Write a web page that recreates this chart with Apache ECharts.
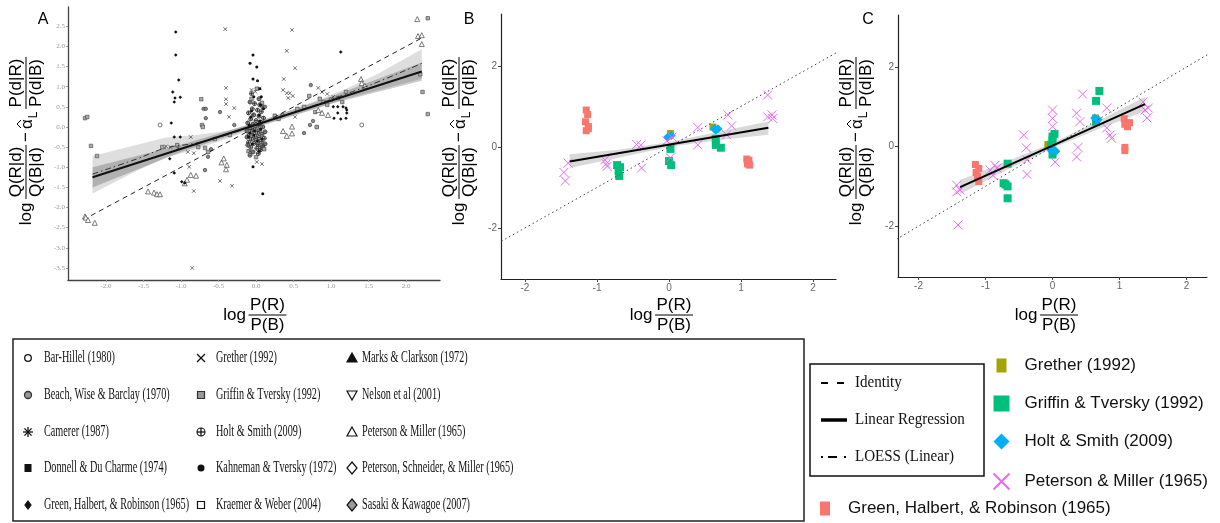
<!DOCTYPE html>
<html>
<head>
<meta charset="utf-8">
<script src="https://cdn.jsdelivr.net/npm/echarts@6/dist/echarts.min.js"></script>
<style>
html, body { margin: 0; padding: 0; background: #fff; }
#chart { width: 1220px; height: 523px; }
</style>
</head>
<body>
<div id="chart"></div>
<script>
// ---------- panel A: all studies (x = log prior odds, y = adjusted log posterior odds)
var aGrether = [[-0.41,2.43],[0.48,2.41],[0.41,1.89],[0.52,1.46],[0.37,1.19],[-0.40,0.97],[-0.40,0.69],[-0.40,0.57],
  [-0.29,0.47],[-0.36,0.25],[-0.87,-0.25],[-0.91,-0.62],[-0.83,-0.65],[-0.89,-0.99],[-0.48,-1.34],[-0.32,-1.46],
  [-0.83,-1.59],[-0.85,-3.5],[0.36,0.92],[0.41,0.84],[0.45,0.84],[0.49,0.77],[0.43,0.72],[0.52,0.25],[0.83,0.97],
  [0.88,0.87],[0.95,0.82],[0.01,-0.87],[0.08,-0.92],[-0.06,0.92],[-0.01,0.88],[0.05,0.96],[1.03,0.75],[-1.04,-0.53],
  [-1.2,-0.48],[-1.14,-0.5],[-0.05,0.3],[0.03,-0.45],[-0.08,-0.6]];
var aPeterson = [[-2.28,-2.22],[-2.27,-2.25],[-2.24,-2.31],[-2.15,-2.38],[-1.44,-1.6],[-1.36,-1.63],[-1.32,-1.67],
  [-1.28,-1.67],[-0.95,-1.4],[-0.92,-1.31],[-0.87,-1.19],[-0.8,-1.21],[-0.46,-0.88],[-0.43,-0.78],[-0.39,-0.94],
  [-0.4,-1.05],[0.36,-0.1],[0.41,-0.22],[0.48,-0.16],[0.48,0.01],[0.83,0.42],[0.88,0.35],[0.96,0.3],[1.4,1.19],
  [1.41,1.09],[1.45,1.02],[2.15,2.68],[2.16,2.26],[2.21,2.28],[2.21,2.06]];
var aGreen = [[-1.07,2.36],[-1.07,1.79],[-1.03,1.17],[-1.11,0.87],[-1.08,0.72],[-1.01,0.74],[-1.09,0.62],[-1.13,0.10],
  [-1.09,-0.25],[-1.01,-0.25],[-1.15,-0.79],[-1.09,-1.14],[-0.99,-1.36],[-0.95,-1.39],[1.13,1.86],[1.03,0.5],[1.09,0.5],
  [1.16,0.5],[1.2,0.47],[1.21,0.42],[1.21,0.35],[1.2,0.22],[1.13,0.2],[1.04,0.22],[1.09,0.35]];
var aKahneman = [[-0.04,1.79],[-0.08,1.58],[0.01,1.49],[-0.04,1.19],[-0.04,-0.99],[0.09,-1.66],[0.02,1.15],[0.05,0.95],
  [-0.03,0.75],[0.06,0.55],[-0.06,0.4],[0.04,0.3],[-0.07,0.25],[0.05,0.15],[-0.02,-0.1],[0.08,-0.3],[-0.05,-0.42],
  [0.07,0.75],[-0.09,0.05],[0.1,0.45],[0.06,-0.05],[-0.1,-0.25],[-0.03,-0.2],[0.02,-0.35],[-0.08,-0.15],[0.04,-0.6]];
var aGriffin = [[-2.28,0.22],[-2.25,0.25],[-2.2,-0.47],[-2.12,-0.72],[-0.73,0.69],[-0.72,0.05],[-0.71,0.0],[-0.64,-0.62],
  [-0.68,-0.52],[-0.77,-0.5],[2.29,2.7],[2.22,0.87],[2.29,0.32],[2.19,1.31],[0.71,0.77],[0.79,0.37],[0.81,0.0],
  [1.09,0.72],[1.15,0.62],[1.2,0.87],[0.64,0.5],[-1.25,-0.5],[-1.05,-0.45],[-0.55,-0.3],[-0.35,-0.2],[-0.06,0.7],
  [0.01,0.95],[0.08,0.6],[-0.1,-0.6],[0.11,-0.55],[0.0,-0.75],[0.25,0.28],[0.3,0.2],[0.55,0.45],[0.9,0.62],
  [0.95,0.55],[1.0,0.68],[0.85,0.7]];
var aBeach = [[-0.67,0.22],[-0.48,0.37],[-0.29,0.05],[-0.64,-0.74],[-0.68,-1.07],[0.73,1.04],[0.76,0.15],[0.72,0.05],
  [0.81,0.0],[0.64,-0.15],[-0.7,0.45],[-0.67,0.45],[0.35,0.3],[0.12,0.5],[-0.6,-0.55]];
var aBarHillel = [[-1.28,0.05],[1.41,0.05]];
var aHolt = [[-0.08,0.62],[-0.02,0.58],[0.05,0.55],[0.09,0.5],[-0.05,0.45],[0.02,0.42],[0.07,0.38],[-0.1,0.35],
  [-0.03,0.3],[0.04,0.27],[0.1,0.22],[-0.07,0.2],[0.0,0.16],[0.06,0.12],[-0.11,0.1],[-0.04,0.07],[0.03,0.04],
  [0.09,0.0],[-0.08,-0.02],[-0.01,-0.05],[0.05,-0.08],[-0.12,-0.1],[-0.05,-0.12],[0.02,-0.15],[0.08,-0.18],
  [-0.09,-0.2],[-0.02,-0.23],[0.04,-0.26],[0.11,-0.28],[-0.06,-0.3],[0.0,-0.33],[0.07,-0.36],[-0.1,-0.38],
  [-0.03,-0.41],[0.03,-0.44],[0.09,-0.47],[-0.07,-0.5],[0.01,-0.53],[0.06,-0.57],[-0.04,-0.62],[0.03,-0.66],
  [-0.08,-0.7],[0.08,-0.52],[-0.11,-0.45],[0.12,-0.42],[-0.12,-0.25],[0.12,-0.12],[-0.06,0.83],[0.04,0.7]];
var aIdentity = [[-2.2,-2.2],[2.2,2.2]];
var aRegression = [[-2.18,-1.25],[2.21,1.38]];
var aLoess = [[-2.18,-1.17],[-1.6,-0.8],[-1.2,-0.52],[-0.8,-0.4],[-0.4,-0.2],[0,0.05],[0.4,0.3],[0.8,0.55],
  [1.2,0.82],[1.6,1.1],[2.21,1.58]];
// [x, lower, upper]
var aRegBand = [[-2.18,-1.5,-1.0],[-1,-0.62,-0.44],[0,0.0,0.11],[1,0.58,0.76],[2.21,1.15,1.6]];
var aLoessBand = [[-2.18,-1.65,-0.72],[-1.6,-1.1,-0.45],[-1.2,-0.76,-0.26],[-0.8,-0.55,-0.2],[-0.4,-0.3,-0.1],
  [0,-0.02,0.12],[0.4,0.22,0.38],[0.8,0.45,0.65],[1.2,0.7,0.95],[1.6,0.9,1.3],[2.21,1.2,1.93]];

// ---------- panel B
var bGreen = [[-1.15,0.91],[-1.13,0.8],[-1.16,0.62],[-1.12,0.5],[-1.15,0.4],[-1.12,0.45],[1.08,-0.3],[1.1,-0.38],
  [1.12,-0.45],[1.09,-0.42],[1.11,-0.33]];
var bGrether = [[0.61,0.49],[0.02,0.33]];
var bGriffin = [[-0.72,-0.45],[-0.68,-0.5],[-0.7,-0.6],[-0.69,-0.72],[0.0,-0.35],[0.03,-0.45],[0.02,-0.05],
  [0.65,0.2],[0.65,0.05],[0.72,-0.02]];
var bHolt = [[-0.02,0.24],[0.03,0.28],[0.63,0.45],[0.68,0.45],[0.65,0.41]];
var bPeterson = [[-1.46,-0.63],[-1.44,-0.84],[-1.4,-0.4],[-0.89,-0.32],[-0.87,-0.42],[-0.86,-0.48],[-0.45,0.06],
  [-0.39,0.04],[-0.38,-0.52],[-0.03,0.15],[0.04,0.24],[0.02,-0.27],[0.4,0.48],[0.4,0.05],[0.82,0.79],[0.87,0.52],
  [0.8,0.3],[1.37,1.28],[1.37,0.74],[1.43,0.79],[1.44,0.7]];
var bRegression = [[-1.38,-0.36],[1.38,0.47]];
var bBand = [[-1.38,-0.52,-0.18],[-0.7,-0.27,-0.07],[0,0.0,0.12],[0.7,0.17,0.38],[1.38,0.3,0.63]];

// ---------- panel C
var cGreen = [[-1.15,-0.45],[-1.1,-0.55],[-1.14,-0.65],[-1.12,-0.75],[-1.1,-0.88],[1.07,0.7],[1.1,0.6],[1.12,0.5],
  [1.08,0.56],[1.15,0.6],[1.08,-0.1],[1.08,-0.02]];
var cGrether = [[-0.07,0.05],[0.64,0.72]];
var cGriffin = [[0.7,1.4],[0.65,1.15],[0.65,0.62],[0.0,0.25],[0.03,0.32],[0.0,0.15],[-0.02,0.05],[0.0,-0.2],
  [-0.67,-0.43],[-0.73,-0.92],[-0.67,-1.0],[-0.7,-0.95],[-0.67,-1.3]];
var cHolt = [[0.63,0.72],[0.68,0.68],[0.66,0.65],[0.0,-0.05],[0.05,-0.12],[-0.02,-0.1]];
var cPeterson = [[-1.43,-0.97],[-1.38,-1.09],[-1.43,-1.14],[-1.41,-1.97],[-0.86,-0.47],[-0.83,-0.54],[-0.89,-0.72],
  [-0.93,-0.59],[-0.43,0.29],[-0.39,-0.03],[-0.38,-0.33],[-0.38,-0.7],[0,0.92],[0,0.71],[0,0.5],[0.04,-0.39],
  [0.36,0.84],[0.41,0.63],[0.38,-0.02],[0.36,-0.26],[0.45,1.32],[0.81,0.97],[0.81,0.47],[0.86,0.29],[0.88,0.21],
  [1.35,1.12],[1.38,0.92],[1.41,0.72],[1.43,0.97]];
var cRegression = [[-1.38,-1.02],[1.38,1.07]];
var cBand = [[-1.38,-1.2,-0.84],[-0.7,-0.6,-0.38],[0,-0.04,0.09],[0.7,0.45,0.66],[1.38,0.89,1.25]];
var bcIdentity = [[-2.33,-2.33],[2.33,2.33]];

// ---------- ticks
var aTicksX = [-2, -1.5, -1, -0.5, 0, 0.5, 1, 1.5, 2];
var aTicksY = [-3.5, -3, -2.5, -2, -1.5, -1, -0.5, 0, 0.5, 1, 1.5, 2, 2.5];
var bcTicksX = [-2, -1, 0, 1, 2];
var bcTicksY = [-2, 0, 2];

// ---------- legends
var legendANames = [
  'Bar-Hillel (1980)', 'Beach, Wise & Barclay (1970)', 'Camerer (1987)', 'Donnell & Du Charme (1974)', 'Green, Halbert, & Robinson (1965)',
  'Grether (1992)', 'Griffin & Tversky (1992)', 'Holt & Smith (2009)', 'Kahneman & Tversky (1972)', 'Kraemer & Weber (2004)',
  'Marks & Clarkson (1972)', 'Nelson et al (2001)', 'Peterson & Miller (1965)', 'Peterson, Schneider, & Miller (1965)', 'Sasaki & Kawagoe (2007)'];
var legendAKinds = ['ocircle', 'gcircle', 'star', 'bsquare', 'bdiamond',
  'cross', 'gsquare', 'oplus', 'bcircle', 'osquare',
  'btri', 'odowntri', 'otri', 'odiamond', 'gdiamond'];
var lineLegendNames = ['Identity', 'Linear Regression', 'LOESS (Linear)'];

var COL = { green: '#F8766D', grether: '#A3A500', griffin: '#00BF7D', holt: '#00B0F6', peterson: '#E76BF3' };
var NAME = { green: 'Green, Halbert, & Robinson (1965)', grether: 'Grether (1992)', griffin: 'Griffin & Tversky (1992)',
  holt: 'Holt & Smith (2009)', peterson: 'Peterson & Miller (1965)' };

var X_PATH = 'path://M0,0L10,10M10,0L0,10';
var SQX_PATH = 'path://M0,0H10V10H0Z';
var OPLUS_PATH = 'path://M5,0A5,5,0,1,1,4.99,0ZM5,0V10M0,5H10';

function band(xi, pts, color) {
  return {
    type: 'custom', xAxisIndex: xi, yAxisIndex: xi, silent: true, z: 2, data: [0],
    renderItem: function (params, api) {
      var up = pts.map(function (p) { return api.coord([p[0], p[2]]); });
      var lo = pts.slice().reverse().map(function (p) { return api.coord([p[0], p[1]]); });
      return { type: 'polygon', shape: { points: up.concat(lo) }, style: { fill: color } };
    }
  };
}
function line(xi, data, color, width, type, smooth) {
  return { type: 'line', xAxisIndex: xi, yAxisIndex: xi, data: data, showSymbol: false, silent: true, z: 4,
    smooth: smooth || false, lineStyle: { color: color, width: width, type: type } };
}
function dots(xi, name, data, symbol, size, style) {
  style.opacity = style.opacity || 1;
  return { type: 'scatter', name: name, xAxisIndex: xi, yAxisIndex: xi, data: data, symbol: symbol,
    symbolSize: size, itemStyle: style, silent: true, z: 3 };
}

var series = [
  band(0, aLoessBand, 'rgba(0,0,0,0.13)'),
  band(0, aRegBand, 'rgba(0,0,0,0.2)'),
  dots(0, 'A Holt', aHolt, OPLUS_PATH, 4, { color: 'rgba(255,255,255,0.4)', borderColor: '#222', borderWidth: 0.8 }),
  dots(0, 'A Bar-Hillel', aBarHillel, 'circle', 4, { color: '#fff', borderColor: '#555', borderWidth: 0.8 }),
  dots(0, 'A Beach', aBeach, 'circle', 3.5, { color: '#888', borderColor: '#333', borderWidth: 0.6 }),
  dots(0, 'A Griffin', aGriffin, 'rect', 3.5, { color: '#aaa', borderColor: '#444', borderWidth: 0.6 }),
  dots(0, 'A Peterson', aPeterson, 'triangle', 5, { color: '#fff', borderColor: '#444', borderWidth: 0.7 }),
  dots(0, 'A Grether', aGrether, X_PATH, 3.5, { color: 'none', borderColor: '#333', borderWidth: 0.7 }),
  dots(0, 'A Kahneman', aKahneman, 'circle', 3, { color: '#111' }),
  dots(0, 'A Green', aGreen, 'diamond', 3.5, { color: '#111' }),
  line(0, aIdentity, '#222', 1, [5, 4]),
  line(0, aLoess, '#333', 1, [6, 3, 1.5, 3], 0.4),
  line(0, aRegression, '#111', 2, 'solid'),

  band(1, bBand, 'rgba(0,0,0,0.15)'),
  line(1, bcIdentity, '#444', 1, [1.5, 3]),
  dots(1, NAME.green, bGreen, SQX_PATH, 7, { color: COL.green }),
  dots(1, NAME.grether, bGrether, SQX_PATH, 7, { color: COL.grether }),
  dots(1, NAME.griffin, bGriffin, 'rect', 8, { color: COL.griffin }),
  dots(1, NAME.holt, bHolt, 'diamond', 9, { color: COL.holt }),
  dots(1, NAME.peterson, bPeterson, X_PATH, 9, { color: 'none', borderColor: COL.peterson, borderWidth: 1 }),
  line(1, bRegression, '#000', 2, 'solid'),

  band(2, cBand, 'rgba(0,0,0,0.15)'),
  line(2, bcIdentity, '#444', 1, [1.5, 3]),
  dots(2, NAME.green, cGreen, SQX_PATH, 7, { color: COL.green }),
  dots(2, NAME.grether, cGrether, SQX_PATH, 7, { color: COL.grether }),
  dots(2, NAME.griffin, cGriffin, 'rect', 8, { color: COL.griffin }),
  dots(2, NAME.holt, cHolt, 'diamond', 9, { color: COL.holt }),
  dots(2, NAME.peterson, cPeterson, X_PATH, 9, { color: 'none', borderColor: COL.peterson, borderWidth: 1 }),
  line(2, cRegression, '#000', 2, 'solid')
];

function axisA(gi, min, max, ticks) {
  return {
    type: 'value', gridIndex: gi, min: min, max: max, splitLine: { show: false },
    axisLine: { onZero: false, lineStyle: { color: '#444', width: 1.3 } },
    axisTick: { length: 2, lineStyle: { color: '#999' }, customValues: ticks },
    axisLabel: { customValues: ticks, fontFamily: 'Liberation Serif', fontSize: 7, color: '#999', margin: 3,
      formatter: function (v) { return v.toFixed(1); } }
  };
}
function axisBC(gi, min, max, ticks) {
  return {
    type: 'value', gridIndex: gi, min: min, max: max, splitLine: { show: false },
    axisLine: { onZero: false, lineStyle: { color: '#222', width: 1.2 } },
    axisTick: { length: 3, lineStyle: { color: '#444' }, customValues: ticks },
    axisLabel: { customValues: ticks, fontFamily: 'Liberation Sans', fontSize: 10, color: '#666', margin: 4 }
  };
}

// ---------- math labels built with graphic text
var SANS = '"Liberation Sans", Arial, sans-serif';
function txt(x, y, s, size, align) {
  return { type: 'text', x: x, y: y, style: { text: s, font: size + 'px ' + SANS, fill: '#000',
    align: align || 'center', textAlign: align || 'center', verticalAlign: 'middle', textVerticalAlign: 'middle' } };
}
function hline(x1, x2, y) {
  return { type: 'line', shape: { x1: x1, y1: y, x2: x2, y2: y }, style: { stroke: '#000', lineWidth: 1 } };
}
function frac(cu, w, top, bottom) {
  return [txt(cu, -10, top, 17), hline(cu - w / 2, cu + w / 2, 0), txt(cu, 10, bottom, 17)];
}
function xLabel(cx, y0) {
  var ch = [txt(11.5, 0, 'log', 17)].concat(frac(44.5, 38, 'P(R)', 'P(B)'));
  return { type: 'group', x: cx - 31.5, y: y0, children: ch };
}
function yLabel(x0, yc) {
  var o = -85;
  var ch = [txt(12 + o, 0, 'log', 17)]
    .concat(frac(54 + o, 54, 'Q(R|d)', 'Q(B|d)'))
    .concat([txt(89 + o, 0, '\u2212', 17), txt(102 + o, 1, '\u03b1', 17),
      { type: 'polyline', shape: { points: [[98 + o, -5], [102 + o, -9], [106 + o, -5]] }, style: { stroke: '#000', lineWidth: 1 } },
      txt(111 + o, 8, 'L', 12)])
    .concat(frac(143 + o, 52, 'P(d|R)', 'P(d|B)'));
  return { type: 'group', x: x0, y: yc, rotation: Math.PI / 2, children: ch };
}

// ---------- legend A symbols (drawn shapes)
function legendSymbol(kind, x, y) {
  var k = '#111', g = '#999';
  function ln(x1, y1, x2, y2) { return { type: 'line', shape: { x1: x1, y1: y1, x2: x2, y2: y2 }, style: { stroke: k, lineWidth: 1.3 } }; }
  function poly(pts, fill) { return { type: 'polygon', shape: { points: pts }, style: { fill: fill, stroke: k, lineWidth: 1.2 } }; }
  switch (kind) {
    case 'ocircle': return [{ type: 'circle', shape: { cx: x, cy: y, r: 3.3 }, style: { fill: '#fff', stroke: k, lineWidth: 1.3 } }];
    case 'gcircle': return [{ type: 'circle', shape: { cx: x, cy: y, r: 3.5 }, style: { fill: g, stroke: '#333', lineWidth: 1.3 } }];
    case 'bcircle': return [{ type: 'circle', shape: { cx: x, cy: y, r: 3.5 }, style: { fill: k } }];
    case 'oplus': return [{ type: 'circle', shape: { cx: x, cy: y, r: 4 }, style: { fill: '#fff', stroke: k, lineWidth: 1.1 } },
      ln(x - 4, y, x + 4, y), ln(x, y - 4, x, y + 4)];
    case 'star': return [ln(x - 5, y, x + 5, y), ln(x, y - 5, x, y + 5), ln(x - 3.6, y - 3.6, x + 3.6, y + 3.6), ln(x - 3.6, y + 3.6, x + 3.6, y - 3.6)];
    case 'cross': return [ln(x - 4, y - 4, x + 4, y + 4), ln(x - 4, y + 4, x + 4, y - 4)];
    case 'bsquare': return [{ type: 'rect', shape: { x: x - 3.5, y: y - 4, width: 7, height: 8 }, style: { fill: k } }];
    case 'gsquare': return [{ type: 'rect', shape: { x: x - 3.5, y: y - 3.5, width: 7, height: 7 }, style: { fill: g, stroke: '#333', lineWidth: 1.2 } }];
    case 'osquare': return [{ type: 'rect', shape: { x: x - 3.5, y: y - 3.5, width: 7, height: 7 }, style: { fill: '#fff', stroke: k, lineWidth: 1.2 } }];
    case 'bdiamond': return [poly([[x, y - 4], [x + 3, y], [x, y + 4], [x - 3, y]], k)];
    case 'btri': return [poly([[x, y - 5], [x + 5, y + 4], [x - 5, y + 4]], k)];
    case 'otri': return [poly([[x, y - 5], [x + 5, y + 4], [x - 5, y + 4]], '#fff')];
    case 'odowntri': return [poly([[x - 5, y - 4], [x + 5, y - 4], [x, y + 5]], '#fff')];
    case 'odiamond': return [poly([[x, y - 6], [x + 5, y], [x, y + 6], [x - 5, y]], '#fff')];
    case 'gdiamond': return [poly([[x, y - 6], [x + 5, y], [x, y + 6], [x - 5, y]], g)];
  }
  return [];
}

var graphic = [];
[[68, 254.5], [501, 661], [898, 1046]].forEach(function (p) {
  graphic.push(yLabel(p[0] - 42, 141));
  graphic.push(xLabel(p[1], 315));
});
[['A', 43], ['B', 469], ['C', 868]].forEach(function (p) {
  graphic.push(txt(p[1], 20, p[0], 16));
});

// legend box A
graphic.push({ type: 'rect', shape: { x: 13, y: 339, width: 791, height: 182 }, style: { fill: 'none', stroke: '#222', lineWidth: 1.5 } });
var colSym = [28, 201, 352], colTxt = [44, 216, 362], rowY = [358, 395, 432, 468, 505];
legendANames.forEach(function (n, i) {
  var c = Math.floor(i / 5), r = i % 5;
  legendSymbol(legendAKinds[i], colSym[c], rowY[r]).forEach(function (e) { graphic.push(e); });
  graphic.push({ type: 'text', x: colTxt[c], y: rowY[r], scaleX: 0.6,
    style: { text: n, font: '17px "Liberation Serif", serif', fill: '#111', verticalAlign: 'middle', textVerticalAlign: 'middle' } });
});

// legend box for line types
graphic.push({ type: 'rect', shape: { x: 810, y: 364, width: 174, height: 112 }, style: { fill: 'none', stroke: '#111', lineWidth: 1.5 } });
var lineY = [383, 420, 457];
var lineDash = [[7, 9], null, [2, 5, 9, 7]];
var lineW = [2, 3.5, 2];
lineLegendNames.forEach(function (n, i) {
  graphic.push({ type: 'line', shape: { x1: 821, y1: lineY[i], x2: 847, y2: lineY[i] },
    style: { stroke: '#000', lineWidth: lineW[i], lineDash: lineDash[i] } });
  graphic.push({ type: 'text', x: 855, y: lineY[i], scaleX: 0.94,
    style: { text: n, font: '16px "Liberation Serif", serif', fill: '#111', verticalAlign: 'middle', textVerticalAlign: 'middle' } });
});

var legendText = { fontFamily: 'Liberation Sans', fontSize: 17, color: '#111', padding: [0, 0, 0, 10] };
// smaller icons for the two square-cross studies (outer moves only set the icon box)
var SMALL_ICON = 'path://M0,0M16,16M3,1H13V15H3Z';

var chart = echarts.init(document.getElementById('chart'));
chart.setOption({
  animation: false,
  backgroundColor: '#fff',
  grid: [
    { left: 68, top: 7, width: 372, height: 273 },
    { left: 501, top: 14, width: 335, height: 265 },
    { left: 898, top: 15, width: 309, height: 262 }
  ],
  xAxis: [axisA(0, -2.507, 2.453, aTicksX), axisBC(1, -2.333, 2.319, bcTicksX), axisBC(2, -2.306, 2.306, bcTicksX)],
  yAxis: [axisA(0, -3.8, 2.98, aTicksY), axisBC(1, -3.26, 3.28, bcTicksY), axisBC(2, -3.28, 3.31, bcTicksY)],
  legend: [
    { data: [{ name: NAME.grether, icon: SMALL_ICON }, NAME.griffin, NAME.holt, NAME.peterson], orient: 'vertical', left: 991, top: 357, padding: 0,
      itemWidth: 16, itemHeight: 16, itemGap: 21, selectedMode: false, textStyle: legendText },
    { data: [{ name: NAME.green, icon: SMALL_ICON }], orient: 'vertical', left: 817, top: 500, padding: 0,
      itemWidth: 16, itemHeight: 16, selectedMode: false, textStyle: legendText }
  ],
  graphic: graphic,
  series: series
});
</script>
</body>
</html>
